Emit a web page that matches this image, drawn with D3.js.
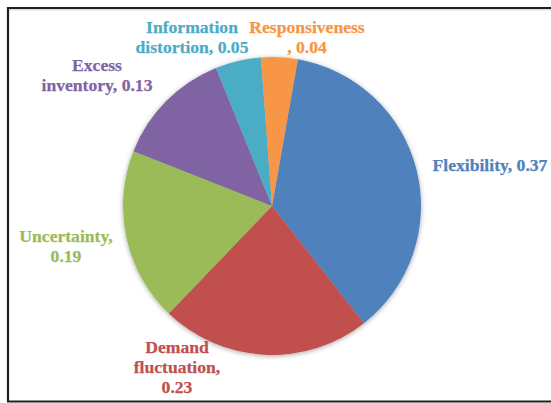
<!DOCTYPE html>
<html><head><meta charset="utf-8">
<script src="https://cdn.jsdelivr.net/npm/d3@7"></script>
<style>body{margin:0;background:#fff}svg{display:block}</style>
</head><body>
<script>
const categories = ["Flexibility", "Demand fluctuation", "Uncertainty", "Excess inventory", "Information distortion", "Responsiveness"];
const values = [0.37, 0.23, 0.19, 0.13, 0.05, 0.04];
const colors = ["#4F81BD", "#C0504D", "#9BBB59", "#8064A2", "#4BACC6", "#F79646"];
// label lines as shown in the chart
const labelLines = [
  ["Flexibility, 0.37"],
  ["Demand", "fluctuation,", "0.23"],
  ["Uncertainty,", "0.19"],
  ["Excess", "inventory, 0.13"],
  ["Information", "distortion, 0.05"],
  ["Responsiveness", ", 0.04"]
];
// label anchor points (center x, first baseline y)
const labelPos = [[490, 171], [177, 353], [66, 242], [97, 71], [192, 33], [307, 33]];

const W = 551, H = 403;
const svg = d3.select("body").append("svg").attr("width", W).attr("height", H);

const defs = svg.append("defs");
const f = defs.append("filter").attr("id", "sh").attr("x", "-20%").attr("y", "-20%").attr("width", "140%").attr("height", "140%");
f.append("feGaussianBlur").attr("in", "SourceAlpha").attr("stdDeviation", 2.5).attr("result", "b");
f.append("feOffset").attr("in", "b").attr("dx", 0).attr("dy", 1).attr("result", "o");
f.append("feComponentTransfer").attr("in", "o").attr("result", "o2")
  .append("feFuncA").attr("type", "linear").attr("slope", 0.35);
const m = f.append("feMerge");
m.append("feMergeNode").attr("in", "o2");
m.append("feMergeNode").attr("in", "SourceGraphic");

const cx = 272, cy = 206, r = 149;
const startDeg = 10;
const pie = d3.pie().sort(null).value(d => d)
  .startAngle(startDeg * Math.PI / 180)
  .endAngle(startDeg * Math.PI / 180 + 2 * Math.PI);
const arc = d3.arc().innerRadius(0).outerRadius(r);

const g = svg.append("g").attr("transform", `translate(${cx},${cy})`).attr("filter", "url(#sh)");
g.selectAll("path").data(pie(values)).join("path")
  .attr("d", arc).attr("fill", (d, i) => colors[i]);

const lg = svg.append("g");
labelLines.forEach((lines, i) => {
  const t = lg.append("text")
    .attr("text-anchor", "middle")
    .attr("font-family", "'Liberation Serif','Times New Roman',serif")
    .attr("font-weight", "bold").attr("font-size", 17.6)
    .attr("fill", colors[i])
    .attr("stroke", colors[i]).attr("stroke-width", 0.25);
  lines.forEach((s, j) => {
    t.append("tspan").attr("x", labelPos[i][0]).attr("y", labelPos[i][1] + j * 20).text(s);
  });
});

// frame
const fr = svg.append("g").attr("stroke", "#231f20").attr("stroke-width", 2.2);
fr.append("line").attr("x1", 7).attr("x2", W).attr("y1", 8).attr("y2", 8);
fr.append("line").attr("x1", 8).attr("x2", 8).attr("y1", 7).attr("y2", 402);
fr.append("line").attr("x1", 7).attr("x2", W).attr("y1", 401.5).attr("y2", 401.5);
svg.append("line").attr("x1", 9).attr("x2", W).attr("y1", 9.8).attr("y2", 9.8).attr("stroke", "#ccc").attr("stroke-width", 1);
</script>
</body></html>
